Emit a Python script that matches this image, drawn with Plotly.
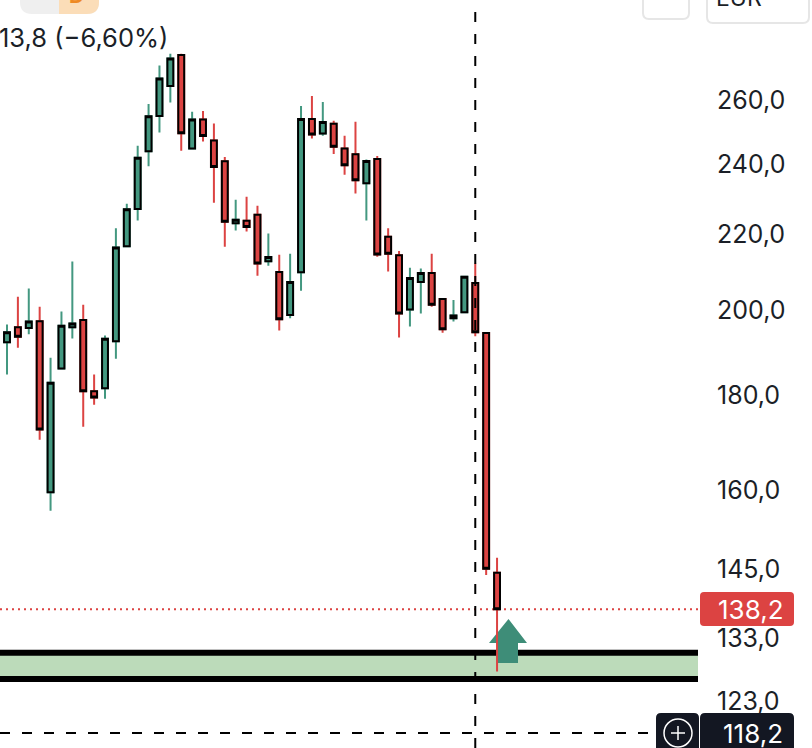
import numpy as np
import plotly.graph_objects as go

opens = [192.3, 195.9, 195.7, 197.4, 159.5, 186.1, 195.9, 197.7, 180.9, 181.6, 192.5, 216.7,
         227.0, 243.9, 254.9, 264.6, 275.0, 244.8, 253.8, 247.2, 240.9, 223.0, 223.7, 225.4,
         212.7, 209.9, 198.9, 209.8, 253.9, 249.4, 252.4, 244.8, 243.0, 234.4, 241.6, 219.3,
         214.3, 200.3, 207.3, 209.6, 202.9, 198.1, 199.6, 207.0, 194.5, 144.3]
highs = [196.6, 203.5, 205.6, 201.0, 188.6, 199.8, 212.6, 201.5, 184.7, 193.9, 221.6, 228.5,
         245.6, 258.7, 271.4, 275.4, 275.4, 256.2, 256.5, 252.5, 242.2, 229.6, 230.5, 227.9,
         220.2, 214.4, 214.7, 258.1, 261.3, 259.4, 253.4, 248.7, 253.1, 241.4, 242.5, 221.6,
         215.4, 211.0, 210.8, 214.7, 202.9, 202.7, 208.6, 212.1, 194.5, 147.0]
lows = [184.7, 191.0, 194.2, 170.3, 155.9, 186.1, 193.2, 173.1, 177.9, 179.2, 188.4, 216.7,
        223.8, 239.4, 249.7, 259.2, 244.1, 244.8, 246.9, 228.8, 216.6, 221.0, 220.7, 208.9,
        211.5, 195.1, 198.1, 205.0, 247.8, 248.7, 243.1, 236.9, 231.4, 223.8, 213.9, 210.0,
        193.4, 196.1, 199.3, 201.0, 194.6, 197.3, 199.6, 193.7, 143.9, 127.6]
closes = [194.7, 193.6, 197.3, 172.5, 182.8, 196.3, 196.8, 180.9, 179.5, 193.1, 216.4, 226.9,
          242.0, 254.8, 267.1, 273.8, 249.5, 253.8, 248.6, 239.2, 223.4, 224.0, 222.0, 212.1,
          213.8, 197.9, 207.3, 253.9, 249.1, 253.0, 245.3, 239.7, 235.3, 241.0, 214.5, 214.7,
          199.3, 208.3, 209.6, 201.5, 195.4, 198.8, 208.6, 194.7, 145.0, 137.9]
bars = list(range(len(opens)))

tick_vals = [260, 240, 220, 200, 180, 160, 145, 133, 123]
last_price = 137.9
cross_price = 118.2
cross_bar = 43
zone_top = 130.6
zone_bottom = 126.4

GREEN = "#439880"
RED = "#DC4342"
BLACK = "#000000"
INK = "#1B1F27"
DARK = "#131722"
W, H = 812, 748
PLOT_W = 698


def px(x):
    return x / PLOT_W


def py(y):
    return 1 - y / H


def rounded(x0, y0, x1, y1, r):
    return (f"M {px(x0 + r)} {py(y0)} L {px(x1 - r)} {py(y0)} Q {px(x1)} {py(y0)} {px(x1)} {py(y0 + r)} "
            f"L {px(x1)} {py(y1 - r)} Q {px(x1)} {py(y1)} {px(x1 - r)} {py(y1)} "
            f"L {px(x0 + r)} {py(y1)} Q {px(x0)} {py(y1)} {px(x0)} {py(y1 - r)} "
            f"L {px(x0)} {py(y0 + r)} Q {px(x0)} {py(y0)} {px(x0 + r)} {py(y0)} Z")


def paper_path(path, fill, line=None, layer="above"):
    return dict(type="path", xref="paper", yref="paper", path=path, fillcolor=fill, layer=layer,
                line=dict(color=line or "rgba(0,0,0,0)", width=2 if line else 0))


fig = go.Figure()

# wicks
fig.add_trace(go.Candlestick(
    x=bars, open=opens, high=highs, low=lows, close=closes, whiskerwidth=0,
    increasing=dict(line=dict(color=GREEN, width=2), fillcolor=GREEN),
    decreasing=dict(line=dict(color=RED, width=2), fillcolor=RED),
    showlegend=False, hoverinfo="skip",
))
# bodies with the black outline
fig.add_trace(go.Candlestick(
    x=bars, open=opens, close=closes,
    high=[max(o, c) for o, c in zip(opens, closes)],
    low=[min(o, c) for o, c in zip(opens, closes)],
    whiskerwidth=0,
    increasing=dict(line=dict(color=BLACK, width=2), fillcolor=GREEN),
    decreasing=dict(line=dict(color=BLACK, width=2), fillcolor=RED),
    showlegend=False, hoverinfo="skip",
))

shapes = [
    # support zone
    dict(type="rect", xref="paper", yref="y", x0=0, x1=1, y0=zone_bottom, y1=zone_top,
         fillcolor="#BCDBBA", line=dict(width=0), layer="below"),
    dict(type="line", xref="paper", yref="y", x0=0, x1=1, y0=zone_top, y1=zone_top,
         line=dict(color=BLACK, width=6), layer="below"),
    dict(type="line", xref="paper", yref="y", x0=0, x1=1, y0=zone_bottom, y1=zone_bottom,
         line=dict(color=BLACK, width=6), layer="below"),
    # arrow
    paper_path(f"M {px(508.5)} {py(619)} L {px(527)} {py(643)} L {px(518)} {py(643)} L {px(518)} {py(663)} "
               f"L {px(498)} {py(663)} L {px(498)} {py(643)} L {px(489)} {py(643)} Z", "#3E8D78", layer="below"),
    # last price line
    dict(type="line", xref="paper", yref="y", x0=0, x1=px(700), y0=last_price, y1=last_price,
         line=dict(color=RED, width=2, dash="2px,4px"), layer="below"),
    # crosshair
    dict(type="line", xref="x", yref="paper", x0=cross_bar, x1=cross_bar, y0=0, y1=1,
         line=dict(color=BLACK, width=2, dash="10px,12px")),
    dict(type="line", xref="paper", yref="y", x0=0, x1=px(648), y0=cross_price, y1=cross_price,
         line=dict(color=BLACK, width=2, dash="10px,12px")),
    # price tags
    paper_path(rounded(700, 592, 794, 626, 4), RED),
    paper_path(rounded(656, 713, 699, 752, 5), DARK),
    paper_path(rounded(700, 713, 794, 752, 5), DARK),
    dict(type="circle", xref="paper", yref="paper", x0=px(664), x1=px(692), y0=py(747), y1=py(719),
         fillcolor=DARK, line=dict(color="#FFFFFF", width=1.5)),
    dict(type="line", xref="paper", yref="paper", x0=px(671), x1=px(685), y0=py(733), y1=py(733),
         line=dict(color="#FFFFFF", width=1.5)),
    dict(type="line", xref="paper", yref="paper", x0=px(678), x1=px(678), y0=py(726), y1=py(740),
         line=dict(color="#FFFFFF", width=1.5)),
    # clipped toolbar bits along the top
    paper_path(rounded(20, -30, 99, 14, 12), "#EFEFEF"),
    paper_path(f"M {px(59)} {py(-30)} L {px(99)} {py(-30)} L {px(99)} {py(2)} Q {px(99)} {py(14)} {px(87)} {py(14)} "
               f"L {px(59)} {py(14)} Z", "#FBDDB8"),
    paper_path(rounded(643, -20, 689, 19, 6), "#FFFFFF", "#E6E6E6"),
    paper_path(rounded(707, -20, 809, 23, 6), "#FFFFFF", "#E6E6E6"),
]

texts = [
    (170, 38, "13,8 (−6,60%)", 25.5, INK, "right"),
    (739, -2, "EUR", 23, INK, "center"),
    (76, -4, "<b>D</b>", 21, "#EE8A25", "center"),
    (785, 609, "138,2", 26, "#FFFFFF", "right"),
    (785, 733, "118,2", 26, "#FFFFFF", "right"),
]
annotations = [
    dict(xref="paper", yref="paper", x=px(x), y=py(y), text=t, showarrow=False, xanchor=anchor,
         yanchor="middle", font=dict(family="Inter", size=size, color=color))
    for x, y, t, size, color, anchor in texts
]

# pixel position of the first bar and bar spacing set the visible window
x_range = [-7.0 / 10.89, (PLOT_W - 7.0) / 10.89]
y_range = [np.log10(116.0), np.log10(294.5)]

fig.update_layout(
    width=W, height=H,
    margin=dict(l=0, r=W - PLOT_W, t=0, b=0),
    plot_bgcolor="#FFFFFF", paper_bgcolor="#FFFFFF",
    boxmode="overlay", boxgap=0.46, boxgroupgap=0,
    separators=",.",
    font=dict(family="Inter", color=INK),
    shapes=shapes, annotations=annotations,
    hovermode=False,
    xaxis=dict(range=x_range, visible=False, rangeslider=dict(visible=False), showgrid=False),
    yaxis=dict(type="log", range=y_range, side="right", tickmode="array", tickvals=tick_vals,
               tickformat=".1f", tickfont=dict(size=25, color=INK), ticks="", ticklabelstandoff=18,
               showgrid=False, zeroline=False, showline=False),
)

fig.write_html("out.html", config={"displayModeBar": False}, post_script="document.body.style.margin='0';")
